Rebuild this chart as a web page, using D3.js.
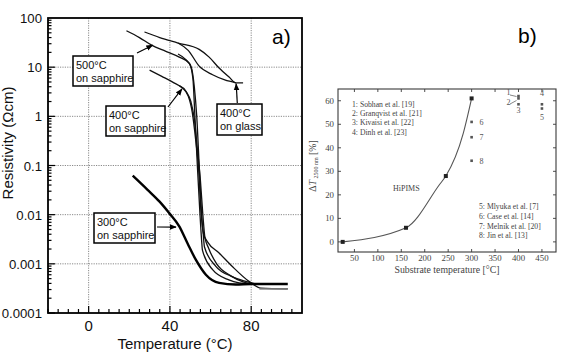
<!DOCTYPE html>
<html>
<head>
<meta charset="utf-8">
<script src="https://cdn.jsdelivr.net/npm/d3@7"></script>
<style>
  body { margin: 0; background: #fff; }
  svg { display: block; }
</style>
</head>
<body>
<svg id="mySVG" width="571" height="359"></svg>
<script>
// ---- panel a) : resistivity vs temperature (t in °C, r in Ωcm) ----
var s500aT = [18.6, 25, 31, 38, 44.6, 49.5, 51.3, 52.3, 53.5, 54.8, 55.6, 56, 61, 69, 74, 80]
var s500aR = [55, 40, 28, 21, 16, 12, 6, 1, 0.1, 0.01, 0.003, 0.0019, 0.00076, 0.00047, 0.00041, 0.00039]
var s500bT = [44, 48, 50.5, 52, 53.2, 54.4, 55.6, 56.4, 57, 62.6, 70.6, 77.3, 82]
var s500bR = [18.5, 14, 10, 4, 1, 0.1, 0.01, 0.004, 0.0022, 0.00089, 0.00055, 0.00044, 0.00039]
var s400aT = [30, 36, 42, 46, 49, 51, 52.8, 54, 55.4, 56.6, 58.5, 64.2, 70.6, 78.9, 84.7, 98]
var s400aR = [8.7, 6.5, 4.8, 3.8, 2.6, 1.2, 0.3, 0.1, 0.01, 0.004, 0.0028, 0.00166, 0.00089, 0.00044, 0.00032, 0.00031]
var s400bT = [44.6, 48, 50.3, 52, 53.6, 55, 56.2, 57.2, 59, 63, 70, 76, 80]
var s400bR = [4.2, 3.2, 2, 0.9, 0.2, 0.05, 0.01, 0.0035, 0.0021, 0.001, 0.00057, 0.00043, 0.00039]
var glassUpT = [27.5, 35, 44, 54.4, 59.3, 64.2, 69.1, 72.5, 76]
var glassUpR = [52, 40, 31, 23, 16, 9.6, 6.3, 4.8, 4.8]
var glassLoT = [44, 49, 54.4, 61, 67, 72.5]
var glassLoR = [31, 22, 10.5, 7, 5.5, 4.8]
var s300T = [21.7, 29, 34.8, 39.7, 44.6, 48.7, 52.8, 57.7, 64.2, 72.4, 80, 98]
var s300R = [0.062, 0.032, 0.0186, 0.0107, 0.0058, 0.0026, 0.0012, 0.0006, 0.00041, 0.00038, 0.00039, 0.00039]

var aXTicks = [0, 40, 80]
var aYTicks = [100, 10, 1, 0.1, 0.01, 0.001, 0.0001]
var aYLabels = ["100", "10", "1", "0.1", "0.01", "0.001", "0.0001"]

// ---- panel b) : ΔT2500nm vs substrate temperature ----
var hipimsT = [25, 160, 245, 300]
var hipimsDT = [0, 6, 28, 61]
var hipimsTraceT = [25, 160, 232, 245, 282, 300]
var hipimsTraceDT = [0, 6, 24.5, 28, 46, 61]
var refIds = ["1", "2", "3", "4", "5", "6", "7", "8"]
var refT = [400, 400, 400, 450, 450, 300, 300, 300]
var refDT = [62, 61, 58.5, 58.5, 56.7, 51, 44.5, 34.5]
var legendLeft = ["1: Sobhan et al. [19]", "2: Granqvist et al. [21]", "3: Kivaisi et al. [22]", "4: Dinh et al. [23]"]
var legendRight = ["5: Mlyuka et al. [7]", "6: Case et al. [14]", "7: Melnik et al. [20]", "8: Jin et al. [13]"]
var bXTicks = [50, 100, 150, 200, 250, 300, 350, 400, 450]
var bYTicks = [0, 10, 20, 30, 40, 50, 60]

var MySVG = d3.select("#mySVG")
var sans = "Liberation Sans, Arial, sans-serif"
var serif = "Liberation Serif, Times New Roman, serif"

// ================= panel a =================
var xA = d3.scaleLinear().domain([-20, 105]).range([48, 302])
var yA = d3.scaleLog().domain([1e-4, 100]).range([313, 18])
var GA = MySVG.append("g").attr("id", "panelA")

//---dotted grid---
var gridA = GA.append("g").attr("stroke", "#8a8a8a").attr("stroke-width", 1).attr("stroke-dasharray", "1.2,1.2")
aXTicks.forEach(function(t) {
    gridA.append("line").attr("x1", xA(t)).attr("x2", xA(t)).attr("y1", yA(100)).attr("y2", yA(1e-4))
})
aYTicks.slice(1, -1).forEach(function(v) {
    gridA.append("line").attr("x1", xA(-20)).attr("x2", xA(105)).attr("y1", yA(v)).attr("y2", yA(v))
})

//---ticks: log minors on left, every 5° at the bottom---
var tickA = GA.append("g").attr("stroke", "#000").attr("stroke-width", 1.2)
for (var e = -4; e < 2; e++) {
    for (var m = 1; m < 10; m++) {
        var v = m * Math.pow(10, e)
        tickA.append("line").attr("x1", xA(-20)).attr("x2", xA(-20) + (m == 1 ? 7 : 3.5))
        .attr("y1", yA(v)).attr("y2", yA(v))
    }
}
for (var t = -20; t <= 100; t += 5) {
    tickA.append("line").attr("x1", xA(t)).attr("x2", xA(t))
    .attr("y1", yA(1e-4)).attr("y2", yA(1e-4) - (t % 40 == 0 ? 7 : 4))
}

//---curves---
var lineA = d3.line().x(function(d) { return xA(d[0]) }).y(function(d) { return yA(d[1]) }).curve(d3.curveMonotoneX)
function pairs(a, b) { return a.map(function(d, i) { return [d, b[i]] }) }
var curvesA = [
    {p: pairs(s500aT, s500aR), w: 1.3, c: "#111"},
    {p: pairs(s500bT, s500bR), w: 1.3, c: "#111"},
    {p: pairs(s400aT, s400aR), w: 1.3, c: "#111"},
    {p: pairs(s400bT, s400bR), w: 1.3, c: "#111"},
    {p: pairs(glassUpT, glassUpR), w: 1.3, c: "#111"},
    {p: pairs(glassLoT, glassLoR), w: 1.3, c: "#111"},
    {p: pairs(s300T, s300R), w: 2.4, c: "#000"}
]
curvesA.forEach(function(c) {
    GA.append("path").attr("d", lineA(c.p)).attr("fill", "none")
    .attr("stroke", c.c).attr("stroke-width", c.w).attr("stroke-linejoin", "round")
})
//---grey tail of the lower plateau---
GA.append("line").attr("x1", xA(84)).attr("x2", xA(98)).attr("y1", yA(0.00031)).attr("y2", yA(0.00031))
.attr("stroke", "#777").attr("stroke-width", 1.6)

//---frame---
GA.append("rect").attr("x", xA(-20)).attr("y", yA(100)).attr("width", xA(105) - xA(-20)).attr("height", yA(1e-4) - yA(100))
.attr("fill", "none").attr("stroke", "#000").attr("stroke-width", 1.8)

//---tick labels---
aYTicks.forEach(function(v, i) {
    GA.append("text").attr("x", 42).attr("y", yA(v) + 5).attr("text-anchor", "end")
    .attr("font-family", sans).attr("font-size", 13.2).attr("fill", "#111").text(aYLabels[i])
})
aXTicks.forEach(function(t) {
    GA.append("text").attr("x", xA(t)).attr("y", 331).attr("text-anchor", "middle")
    .attr("font-family", sans).attr("font-size", 15).attr("fill", "#111").text(t)
})
GA.append("text").attr("x", 175).attr("y", 349).attr("text-anchor", "middle")
.attr("font-family", sans).attr("font-size", 15).attr("fill", "#111").text("Temperature (°C)")
GA.append("text").attr("transform", "translate(13,143) rotate(-90)").attr("text-anchor", "middle")
.attr("font-family", sans).attr("font-size", 15).attr("fill", "#111").text("Resistivity (Ωcm)")

//---annotation boxes with arrows---
var defs = MySVG.append("defs")
defs.append("marker").attr("id", "arrowA").attr("viewBox", "0 0 10 10")
.attr("refX", 9).attr("refY", 5).attr("markerWidth", 7).attr("markerHeight", 7)
.attr("markerUnits", "userSpaceOnUse").attr("orient", "auto")
.append("path").attr("d", "M0,1 L10,5 L0,9 Z").attr("fill", "#000")

var notes = [
    {l1: "500°C", l2: "on sapphire", x: 73, y: 56, w: 60, h: 30, ax: 137, ay: 53, tt: 31.5, tr: 28},
    {l1: "400°C", l2: "on sapphire", x: 106, y: 106, w: 59, h: 30, ax: 168, ay: 107, tt: 45.9, tr: 3.6},
    {l1: "400°C", l2: "on glass", x: 217, y: 104, w: 45, h: 31, ax: 237.3, ay: 103, tt: 72.6, tr: 4.8},
    {l1: "300°C", l2: "on sapphire", x: 94, y: 213, w: 61, h: 30, ax: 157, ay: 227, tt: 43, tr: 0.0056}
]
notes.forEach(function(n) {
    GA.append("rect").attr("x", n.x).attr("y", n.y).attr("width", n.w).attr("height", n.h)
    .attr("fill", "#fff").attr("stroke", "#000").attr("stroke-width", 1.5)
    GA.append("text").attr("x", n.x + 3).attr("y", n.y + 12.5).attr("font-family", sans)
    .attr("font-size", 11).attr("fill", "#111").text(n.l1)
    GA.append("text").attr("x", n.x + 3).attr("y", n.y + 25.5).attr("font-family", sans)
    .attr("font-size", 11).attr("fill", "#111").text(n.l2)
    GA.append("line").attr("x1", n.ax).attr("y1", n.ay).attr("x2", xA(n.tt)).attr("y2", yA(n.tr) + (n.tt > 70 ? 1 : 0))
    .attr("stroke", "#000").attr("stroke-width", 1.2).attr("marker-end", "url(#arrowA)")
})

GA.append("text").attr("x", 272).attr("y", 44).attr("font-family", sans).attr("font-size", 21)
.attr("fill", "#000").text("a)")

// ================= panel b =================
var xB = d3.scaleLinear().domain([15, 480]).range([338, 556])
var yB = d3.scaleLinear().domain([-4.3, 65]).range([252, 89])
var GB = MySVG.append("g").attr("id", "panelB")
var ink = "#3a3a3a"

GB.append("rect").attr("x", xB(15)).attr("y", yB(65)).attr("width", xB(480) - xB(15)).attr("height", yB(-4.3) - yB(65))
.attr("fill", "none").attr("stroke", ink).attr("stroke-width", 1.1)

var tickB = GB.append("g").attr("stroke", ink).attr("stroke-width", 0.9)
bXTicks.forEach(function(t) {
    tickB.append("line").attr("x1", xB(t)).attr("x2", xB(t)).attr("y1", yB(-4.3)).attr("y2", yB(-4.3) - 3)
    tickB.append("line").attr("x1", xB(t)).attr("x2", xB(t)).attr("y1", yB(65)).attr("y2", yB(65) + 3)
    GB.append("text").attr("x", xB(t)).attr("y", 261).attr("text-anchor", "middle")
    .attr("font-family", serif).attr("font-size", 8.8).attr("fill", "#444").text(t)
})
bYTicks.forEach(function(v) {
    tickB.append("line").attr("x1", xB(15)).attr("x2", xB(15) + 3).attr("y1", yB(v)).attr("y2", yB(v))
    tickB.append("line").attr("x1", xB(480)).attr("x2", xB(480) - 3).attr("y1", yB(v)).attr("y2", yB(v))
    GB.append("text").attr("x", 334).attr("y", yB(v) + 3).attr("text-anchor", "end")
    .attr("font-family", serif).attr("font-size", 8.8).attr("fill", "#444").text(v)
})

var lineB = d3.line().x(function(d) { return xB(d[0]) }).y(function(d) { return yB(d[1]) }).curve(d3.curveMonotoneX)
GB.append("path").attr("d", lineB(pairs(hipimsTraceT, hipimsTraceDT))).attr("fill", "none")
.attr("stroke", "#555").attr("stroke-width", 1.1)
GB.selectAll(".hp").data(pairs(hipimsT, hipimsDT)).enter().append("rect")
.attr("x", function(d) { return xB(d[0]) - 2 }).attr("y", function(d) { return yB(d[1]) - 2 })
.attr("width", 4).attr("height", 4).attr("fill", "#222")

var refPts = refIds.map(function(id, i) { return {id: id, t: refT[i], dt: refDT[i]} })
GB.selectAll(".rp").data(refPts).enter().append("rect")
.attr("x", function(d) { return xB(d.t) - 1.3 }).attr("y", function(d) { return yB(d.dt) - 1.3 })
.attr("width", 2.6).attr("height", 2.6).attr("fill", "#555")
var idOff = {"1": [-12, -1], "2": [-12, 7], "3": [0, 9], "4": [0, -8], "5": [0, 11], "6": [8, 3], "7": [8, 3], "8": [8, 3]}
refPts.forEach(function(d) {
    var o = idOff[d.id]
    GB.append("text").attr("x", xB(d.t) + o[0]).attr("y", yB(d.dt) + o[1])
    .attr("text-anchor", o[0] == 0 ? "middle" : "start")
    .attr("font-family", serif).attr("font-size", 8).attr("fill", "#555").text(d.id)
})
//---small leader lines for 1 and 2---
GB.append("line").attr("x1", 510).attr("y1", 95).attr("x2", 516.5).attr("y2", 96.5).attr("stroke", "#666").attr("stroke-width", 0.8)
GB.append("line").attr("x1", 510).attr("y1", 104).attr("x2", 516.5).attr("y2", 100.5).attr("stroke", "#666").attr("stroke-width", 0.8)

legendLeft.forEach(function(s, i) {
    GB.append("text").attr("x", 352).attr("y", 107 + i * 9.2).attr("font-family", serif)
    .attr("font-size", 7.7).attr("fill", "#444").text(s)
})
legendRight.forEach(function(s, i) {
    GB.append("text").attr("x", 479).attr("y", 209 + i * 9.8).attr("font-family", serif)
    .attr("font-size", 7.7).attr("fill", "#444").text(s)
})
GB.append("text").attr("x", 393).attr("y", 191).attr("font-family", serif).attr("font-size", 8)
.attr("fill", "#444").text("HiPIMS")

GB.append("text").attr("x", 447).attr("y", 273).attr("text-anchor", "middle")
.attr("font-family", serif).attr("font-size", 9.8).attr("fill", "#444").text("Substrate temperature [°C]")
var yt = GB.append("text").attr("transform", "translate(316,166) rotate(-90)").attr("text-anchor", "middle")
.attr("font-family", serif).attr("font-size", 9.8).attr("fill", "#444")
yt.append("tspan").text("Δ")
yt.append("tspan").attr("font-style", "italic").text("T")
yt.append("tspan").attr("font-size", 6).attr("dy", 2).text(" 2500 nm")
yt.append("tspan").attr("dy", -2).text(" [%]")

MySVG.append("text").attr("x", 518).attr("y", 43).attr("font-family", sans).attr("font-size", 21)
.attr("fill", "#000").text("b)")
</script>
</body>
</html>
